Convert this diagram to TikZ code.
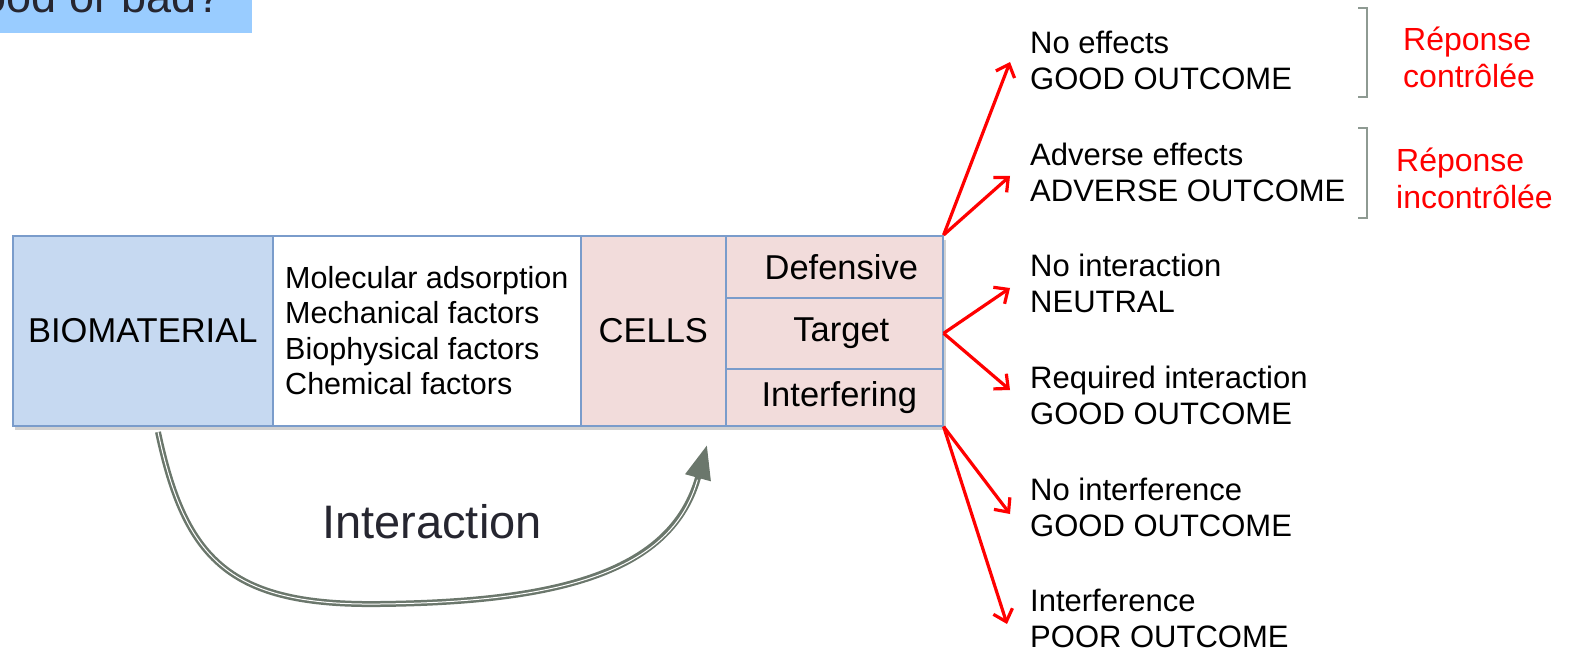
\documentclass[tikz,border=0pt]{standalone}
\usepackage{fontspec}
\setmainfont{Liberation Sans}
\usetikzlibrary{arrows.meta}
\definecolor{boxline}{HTML}{7A9CCB}
\definecolor{biofill}{HTML}{C6D9F1}
\definecolor{cellfill}{HTML}{F2DCDB}
\definecolor{titlefill}{HTML}{99CCFF}
\definecolor{darktxt}{HTML}{262630}
\definecolor{arrowgray}{HTML}{6B776C}
\definecolor{brackgray}{HTML}{8E9A92}
\tikzset{
  cellbox/.style={draw=boxline, line width=1.6pt, anchor=north west, inner sep=0pt, font=\fontsize{34.5}{38}\selectfont},
  outtxt/.style={anchor=west, inner sep=0pt, align=left, font=\fontsize{31}{36}\selectfont},
  redlbl/.style={text=red, anchor=west, align=left, inner sep=0pt, font=\fontsize{32}{37}\selectfont},
  redarrow/.style={draw=red, line width=3.2pt, -{Straight Barb[length=11pt,width=20pt,line width=3.2pt]}},
  brack/.style={draw=brackgray, line width=1.3pt},
}
\begin{document}
\begin{tikzpicture}[x=1pt,y=-1pt]
\useasboundingbox (0,0) rectangle (1573,652);
% title (clipped at the top edge, as in the reference)
\begin{scope}
\clip (0,0) rectangle (1573,652);
\fill[titlefill] (-5,-60) rectangle (252,33);
\node[anchor=base east, inner sep=0pt, text=darktxt, font=\fontsize{45}{50}\selectfont] (title) at (222,12.5) {Good or bad?};
\end{scope}
% shadow
\fill[black, opacity=0.18] (15,240) rectangle (946,430);
% row of boxes
\node[cellbox, fill=biofill, minimum width=260pt, minimum height=190pt] (bio) at (12,235) {BIOMATERIAL};
\node[cellbox, fill=white, minimum width=308pt, minimum height=190pt, align=left, font=\fontsize{30.5}{35.5}\selectfont] (fac) at (272,235) {Molecular adsorption\\Mechanical factors\\Biophysical factors\\Chemical factors};
\node[cellbox, fill=cellfill, minimum width=145pt, minimum height=190pt] (cells) at (580,235) {CELLS};
\node[cellbox, fill=cellfill, minimum width=217pt, minimum height=62pt] (def) at (725,235) {\hspace*{14pt}Defensive};
\node[cellbox, fill=cellfill, minimum width=217pt, minimum height=71pt] (tar) at (725,297) {\hspace*{14pt}Target};
\node[cellbox, fill=cellfill, minimum width=217pt, minimum height=57pt] (int) at (725,368) {\hspace*{10pt}Interfering};
% outcomes
\node[outtxt] (o1) at (1030,60) {No effects\\GOOD OUTCOME};
\node[outtxt] (o2) at (1030,172) {Adverse effects\\ADVERSE OUTCOME};
\node[outtxt] (o3) at (1030,283) {No interaction\\NEUTRAL};
\node[outtxt] (o4) at (1030,395) {Required interaction\\GOOD OUTCOME};
\node[outtxt] (o5) at (1030,507) {No interference\\GOOD OUTCOME};
\node[outtxt] (o6) at (1030,618) {Interference\\POOR OUTCOME};
% red arrows
\draw[redarrow] (def.north east) -- ([xshift=-20pt,yshift=-2pt]o1.west);
\draw[redarrow] (def.north east) -- ([xshift=-20pt,yshift=-4pt]o2.west);
\draw[redarrow] (tar.east) -- ([xshift=-20pt,yshift=-5pt]o3.west);
\draw[redarrow] (tar.east) -- ([xshift=-20pt,yshift=5pt]o4.west);
\draw[redarrow] (int.south east) -- ([xshift=-20pt,yshift=-7pt]o5.west);
\draw[redarrow] (int.south east) -- ([xshift=-23pt,yshift=-6pt]o6.west);
% brackets
\draw[brack] (1358,8) -- (1367,8) -- (1367,97) -- (1358,97);
\draw[brack] (1358,128) -- (1367,128) -- (1367,218) -- (1358,218);
\node[redlbl] (r1) at (1403,57) {Réponse\\contrôlée};
\node[redlbl] (r2) at (1396,178) {Réponse\\incontrôlée};
% interaction arrow
\coordinate (iend) at (707,445);
\draw[arrowgray, line width=6pt, -{Triangle[length=34pt,width=25pt]}]
  (158,432) .. controls (185,560) and (230,606) .. (380,604)
  .. controls (560,602) and (672,572) .. (iend);
\draw[white, line width=1pt, shorten >=36pt]
  (158,432) .. controls (185,560) and (230,606) .. (380,604)
  .. controls (560,602) and (672,572) .. (iend);
\node[text=darktxt, font=\fontsize{47}{52}\selectfont, inner sep=0pt] (lbl) at (432,522) {Interaction};
\end{tikzpicture}
\end{document}
